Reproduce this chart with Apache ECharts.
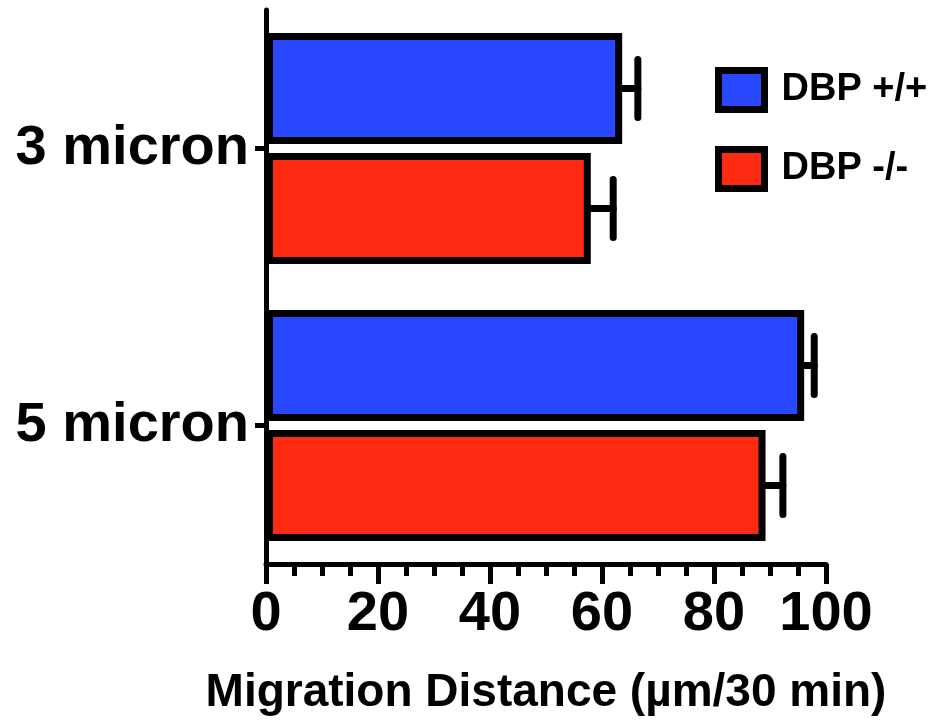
<!DOCTYPE html>
<html>
<head>
<meta charset="utf-8">
<script src="https://cdn.jsdelivr.net/npm/echarts@6/dist/echarts.min.js"></script>
<style>
  html, body { margin: 0; padding: 0; background: #fff; }
  #chart { width: 937px; height: 721px; }
</style>
</head>
<body>
<div id="chart"></div>
<script>
// migration distance, mean +/- error
const categories = ['3 micron', '5 micron'];
const seriesNames = ['DBP +/+', 'DBP -/-'];
const wildMean = [63.6, 96.1];
const wildErr = [2.8, 1.8];
const knockMean = [58.0, 89.2];
const knockErr = [4.0, 3.1];
const xTicks = [0, 20, 40, 60, 80, 100];

const FONT = "'Liberation Sans', Arial, sans-serif";
const BAR_W = 111;
const BAR_GAP = 9;
const colors = ['#2947FE', '#FF2A12'];

// error bar points: [mean, categoryIndex, err, seriesIndex]
const errData = [];
categories.forEach((c, i) => {
  errData.push([wildMean[i], i, wildErr[i], 0]);
  errData.push([knockMean[i], i, knockErr[i], 1]);
});

function renderErr(params, api) {
  const mean = api.value(0);
  const cat = api.value(1);
  const err = api.value(2);
  const idx = api.value(3);
  const off = (idx === 0 ? -1 : 1) * (BAR_W + BAR_GAP) / 2;
  const p0 = api.coord([mean, cat]);
  const p1 = api.coord([mean + err, cat]);
  const y = p0[1] + off;
  const capH = 29;
  const style = { stroke: '#000', lineWidth: 7, lineCap: 'round' };
  return {
    type: 'group',
    children: [
      { type: 'line', shape: { x1: p0[0] - 4, y1: y, x2: p1[0], y2: y }, style: style },
      { type: 'line', shape: { x1: p1[0], y1: y - capH, x2: p1[0], y2: y + capH }, style: style }
    ]
  };
}

const chart = echarts.init(document.getElementById('chart'));
chart.setOption({
  animation: false,
  textStyle: { fontFamily: FONT },
  grid: { left: 266, right: 111, top: 10, bottom: 151, containLabel: false },
  legend: {
    data: seriesNames,
    icon: 'rect',
    orient: 'vertical',
    left: 710,
    top: 62,
    itemWidth: 46,
    itemHeight: 39,
    itemGap: 33,
    itemStyle: { borderColor: '#000', borderWidth: 7 },
    textStyle: { fontFamily: FONT, fontSize: 38, fontWeight: 'bold', color: '#000', padding: [0, 0, 0, 12] }
  },
  xAxis: {
    type: 'value',
    min: 0,
    max: 100,
    interval: 20,
    name: 'Migration Distance (µm/30 min)',
    nameLocation: 'middle',
    nameGap: 106,
    nameTextStyle: { fontFamily: FONT, fontSize: 46, fontWeight: 'bold', color: '#000' },
    axisLine: { show: true, lineStyle: { color: '#000', width: 5 } },
    axisTick: { show: true, length: 20, lineStyle: { color: '#000', width: 5 } },
    minorTick: { show: true, splitNumber: 4, length: 12, lineStyle: { color: '#000', width: 5 } },
    splitLine: { show: false },
    axisLabel: {
      margin: 23,
      fontFamily: FONT, fontSize: 56, fontWeight: 'bold', color: '#000',
      formatter: v => (xTicks.indexOf(v) >= 0 ? String(v) : '')
    }
  },
  yAxis: {
    type: 'category',
    data: categories,
    inverse: true,
    axisLine: { show: true, lineStyle: { color: '#000', width: 5 } },
    axisTick: { show: true, alignWithLabel: true, length: 11, lineStyle: { color: '#000', width: 5 } },
    axisLabel: { margin: 17, fontFamily: FONT, fontSize: 56, fontWeight: 'bold', color: '#000' }
  },
  series: [
    {
      name: seriesNames[0],
      type: 'bar',
      data: wildMean,
      barWidth: BAR_W,
      barGap: (BAR_GAP / BAR_W * 100) + '%',
      z: 3,
      itemStyle: { color: colors[0], borderColor: '#000', borderWidth: 7 }
    },
    {
      name: seriesNames[1],
      type: 'bar',
      data: knockMean,
      barWidth: BAR_W,
      z: 3,
      itemStyle: { color: colors[1], borderColor: '#000', borderWidth: 7 }
    },
    {
      name: 'error',
      type: 'custom',
      data: errData,
      encode: { x: 0, y: 1 },
      renderItem: renderErr,
      z: 2,
      silent: true
    }
  ]
});
</script>
</body>
</html>
